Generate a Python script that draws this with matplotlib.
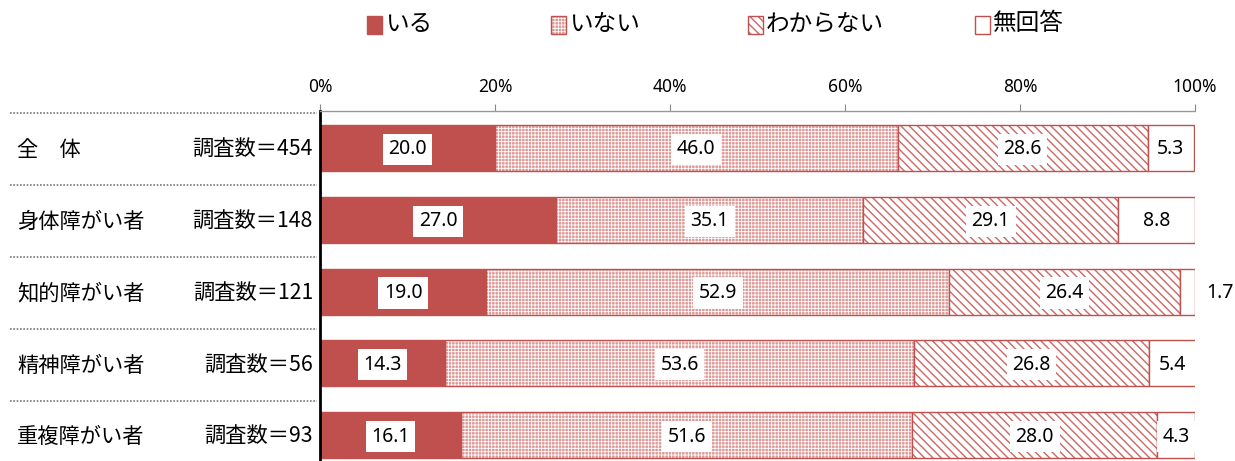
import matplotlib
matplotlib.use('Agg')
import matplotlib.pyplot as plt
from matplotlib.patches import Rectangle
import matplotlib.transforms as mtransforms

# ---- data ----
groups = ['全　体', '身体障がい者', '知的障がい者', '精神障がい者', '重複障がい者']
counts = ['調査数＝454', '調査数＝148', '調査数＝121', '調査数＝56', '調査数＝93']
series_names = ['いる', 'いない', 'わからない', '無回答']
iru = [20.0, 27.0, 19.0, 14.3, 16.1]
inai = [46.0, 35.1, 52.9, 53.6, 51.6]
wakaranai = [28.6, 29.1, 26.4, 26.8, 28.0]
mukaito = [5.3, 8.8, 1.7, 5.4, 4.3]
xticks = [0, 20, 40, 60, 80, 100]
xtick_labels = ['0%', '20%', '40%', '60%', '80%', '100%']

series = [iru, inai, wakaranai, mukaito]

RED = '#C0504D'
plt.rcParams['font.family'] = ['Noto Sans CJK JP', 'DejaVu Sans']

# (fill style, hatch colour, hatch linewidth)
styles = [
    dict(facecolor=RED, hatch=None, hcol=RED, hlw=1.0),
    dict(facecolor='#DE9896', hatch='+++++', hcol='white', hlw=0.6),
    dict(facecolor='white', hatch='\\\\\\\\', hcol='#CB6764', hlw=1.0),
    dict(facecolor='white', hatch=None, hcol=RED, hlw=1.0),
]


def draw_box(xy, w, h, st, **kw):
    """Filled (possibly hatched) rectangle with red outline."""
    with plt.rc_context({'hatch.linewidth': st['hlw']}):
        r1 = Rectangle(xy, w, h, facecolor=st['facecolor'], edgecolor=st['hcol'],
                       hatch=st['hatch'], linewidth=0, **kw)
    r2 = Rectangle(xy, w, h, facecolor='none', edgecolor=RED, linewidth=1.0, **kw)
    return r1, r2


fig = plt.figure(figsize=(12.35, 4.61), dpi=100)
ax = fig.add_axes([320 / 1235, 0.0, 875 / 1235, 1 - 111 / 461])

ypos = list(range(len(groups)))
left = [0.0] * len(groups)
bh = 0.64
for vals, st in zip(series, styles):
    with plt.rc_context({'hatch.linewidth': st['hlw']}):
        ax.barh(ypos, vals, left=left, height=bh, linewidth=0,
                facecolor=st['facecolor'], edgecolor=st['hcol'], hatch=st['hatch'])
    ax.barh(ypos, vals, left=left, height=bh, linewidth=1.0,
            facecolor='none', edgecolor=RED)
    for i, v in enumerate(vals):
        if v < 3:
            xt = left[i] + v + 2.9
        else:
            xt = left[i] + v / 2
        ax.text(xt, i + 0.02, f'{v:.1f}', ha='center', va='center', fontsize=14,
                family=['Noto Sans', 'DejaVu Sans'],
                bbox=dict(facecolor='white', edgecolor='none', pad=4))
    left = [l + v for l, v in zip(left, vals)]

ax.set_xlim(0, 100)
ax.set_ylim(4.36, -0.514)
ax.xaxis.tick_top()
ax.set_xticks(xticks)
ax.set_xticklabels(xtick_labels, fontsize=12.5, family=['Noto Sans', 'DejaVu Sans'])
ax.tick_params(axis='x', direction='out', length=5, color='#888888', pad=6)
ax.set_yticks([])
for s in ['right', 'bottom']:
    ax.spines[s].set_visible(False)
ax.spines['top'].set_color('#999999')
ax.spines['top'].set_linewidth(1.0)
ax.spines['left'].set_color('black')
ax.spines['left'].set_linewidth(2.0)

# row labels and separators
trans = mtransforms.blended_transform_factory(ax.transAxes, ax.transData)
x_left = (17 - 320) / 875
x_right = (313 - 320) / 875
for i, (g, c) in enumerate(zip(groups, counts)):
    ax.text(x_left, i + 0.03, g, transform=trans, ha='left', va='center', fontsize=15.3)
    ax.text(x_right, i + 0.03, c, transform=trans, ha='right', va='center', fontsize=15.3)
for i in range(len(groups)):
    ax.plot([(10 - 320) / 875, -0.003], [i - 0.48, i - 0.48], transform=trans,
            color='#777777', linestyle=(0, (1, 1)), linewidth=1.2, clip_on=False)

# legend
leg_x = [367, 551, 748, 975]
leg_y = 25
for name, st, lx in zip(series_names, styles, leg_x):
    w, h = 15, 18
    xy = (lx / 1235, 1 - (leg_y + h / 2) / 461)
    r1, r2 = draw_box(xy, w / 1235, h / 461, st, transform=fig.transFigure)
    fig.patches.append(r1)
    fig.patches.append(r2)
    fig.text((lx + w + 3) / 1235, 1 - (leg_y - 1) / 461, name, ha='left', va='center',
             fontsize=17)

fig.savefig('out.png', dpi=100)
